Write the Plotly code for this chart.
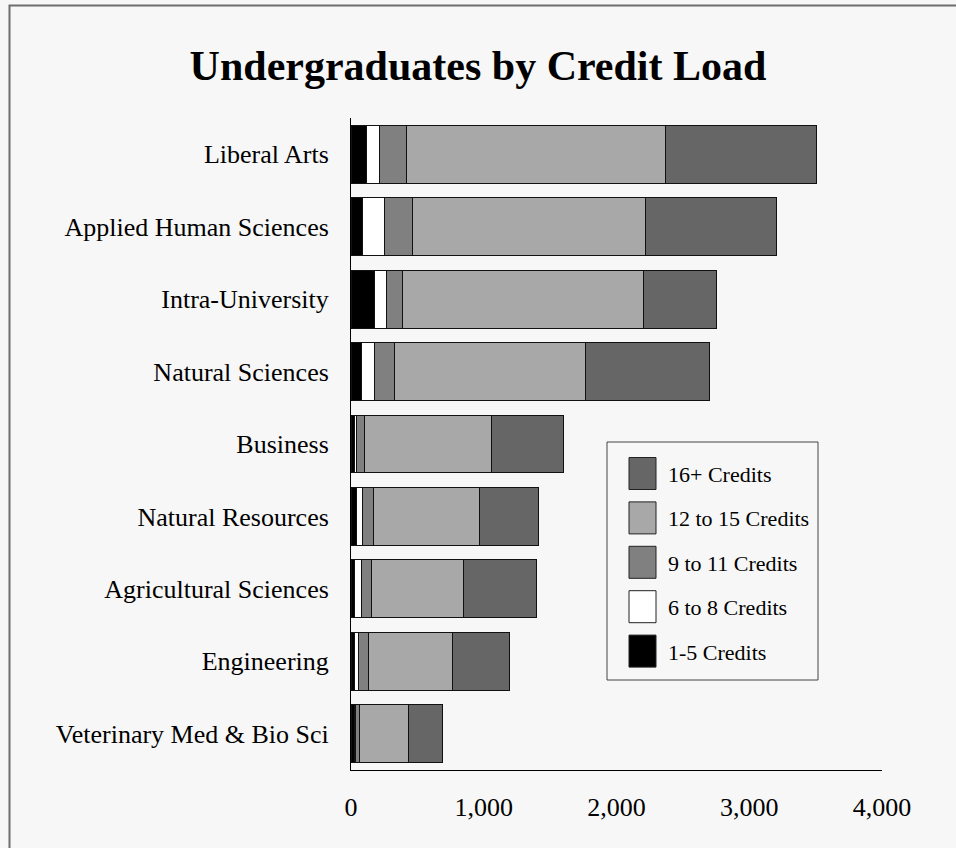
import plotly.graph_objects as go

categories = ["Liberal Arts", "Applied Human Sciences", "Intra-University", "Natural Sciences",
              "Business", "Natural Resources", "Agricultural Sciences", "Engineering",
              "Veterinary Med & Bio Sci"]
credits_1_5 = [113, 90, 178, 80, 23, 38, 30, 28, 23]
credits_6_8 = [100, 166, 93, 95, 15, 47, 47, 32, 10]
credits_9_11 = [206, 211, 118, 151, 63, 83, 81, 70, 30]
credits_12_15 = [1951, 1755, 1813, 1444, 960, 798, 688, 633, 369]
credits_16_plus = [1137, 982, 555, 934, 539, 450, 550, 432, 256]
series_names = ["1-5 Credits", "6 to 8 Credits", "9 to 11 Credits", "12 to 15 Credits", "16+ Credits"]
series_values = [credits_1_5, credits_6_8, credits_9_11, credits_12_15, credits_16_plus]
series_colors = ["#000000", "#ffffff", "#808080", "#a8a8a8", "#666666"]
x_ticks = [0, 1000, 2000, 3000, 4000]

W, H = 956, 848
L, R, T, B = 351, 882, 118, 770
FONT = "Liberation Serif, Times New Roman, serif"
BG = "#f7f7f7"

fig = go.Figure()
for name, vals, col in zip(series_names, series_values, series_colors):
    fig.add_trace(go.Bar(
        y=categories, x=vals, name=name, orientation="h",
        marker=dict(color=col, line=dict(color="#111111", width=1)),
        showlegend=False,
    ))

def px_x(p):
    return (p - L) / (R - L)

def px_y(p):
    return (B - p) / (B - T)

shapes = []
annotations = []
# outer frame (partially outside the page)
shapes.append(dict(type="rect", xref="paper", yref="paper",
                   x0=px_x(9.5), x1=px_x(W + 20), y0=px_y(H + 20), y1=px_y(5.5),
                   line=dict(color="#6e6e6e", width=2), fillcolor="rgba(0,0,0,0)", layer="below"))
# legend box
shapes.append(dict(type="rect", xref="paper", yref="paper",
                   x0=px_x(607), x1=px_x(818), y0=px_y(680), y1=px_y(442),
                   line=dict(color="#444444", width=1), fillcolor=BG))
legend_order = list(range(len(series_names)))[::-1]
for i, idx in enumerate(legend_order):
    top = 457.5 + i * 44.4
    shapes.append(dict(type="rect", xref="paper", yref="paper",
                       x0=px_x(629), x1=px_x(656), y0=px_y(top + 32), y1=px_y(top),
                       line=dict(color="#222222", width=1), fillcolor=series_colors[idx]))
    annotations.append(dict(xref="paper", yref="paper", x=px_x(666), y=px_y(top + 17),
                            xanchor="left", yanchor="middle", showarrow=False,
                            text=series_names[idx], font=dict(family=FONT, size=22, color="#000")))

fig.update_layout(
    width=W, height=H,
    barmode="stack", bargap=0.2,
    paper_bgcolor=BG, plot_bgcolor=BG,
    margin=dict(l=L, r=W - R, t=T, b=H - B, pad=0),
    title=dict(text="<b>Undergraduates by Credit Load</b>", x=0.5, xanchor="center",
               y=1 - 65 / H, yanchor="middle", yref="container",
               font=dict(family=FONT, size=42, color="#000")),
    xaxis=dict(range=[0, 4000], tickvals=x_ticks, tickformat=",", showgrid=False, zeroline=False,
               showline=True, linecolor="#000", linewidth=1, ticks="", ticklabelstandoff=14,
               tickfont=dict(family=FONT, size=26, color="#000"), fixedrange=True),
    yaxis=dict(categoryorder="array", categoryarray=categories[::-1], showgrid=False, zeroline=False,
               showline=True, linecolor="#000", linewidth=1, ticks="", ticklabelstandoff=16,
               tickfont=dict(family=FONT, size=26, color="#000"), fixedrange=True),
    shapes=shapes, annotations=annotations,
)

fig.write_html("out.html", config={"displayModeBar": False},
               post_script="document.body.style.margin='0';document.body.style.overflow='hidden';")
